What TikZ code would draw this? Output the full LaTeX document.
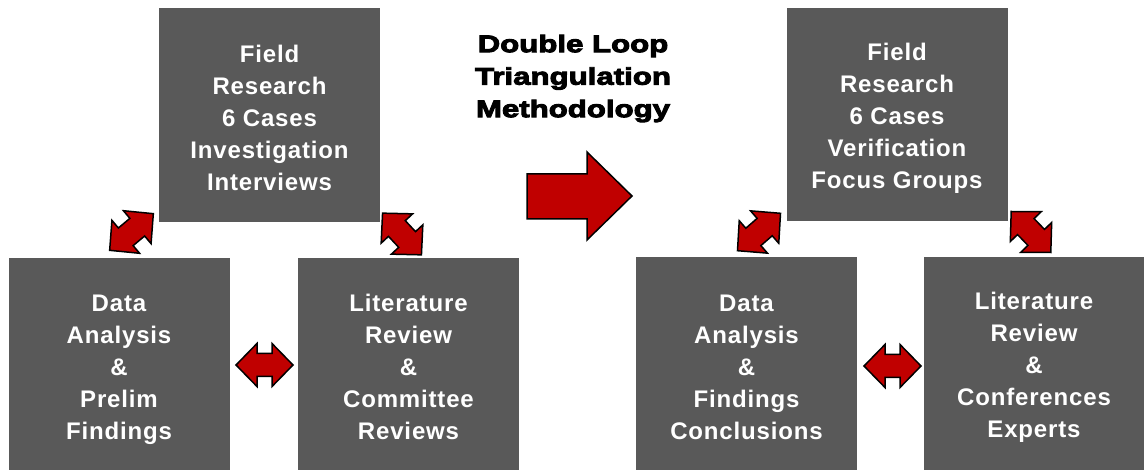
\documentclass[tikz,border=0pt]{standalone}
\usepackage{fontspec}
\setmainfont{Liberation Sans}[BoldFeatures={LetterSpace=3.5}]
\newfontfamily\titlefont{Liberation Sans}[BoldFeatures={FakeStretch=1.3,FakeBold=4}]
\definecolor{boxgray}{HTML}{595959}
\definecolor{arrowred}{HTML}{C00000}
\tikzset{
  stage/.style={fill=boxgray, draw=none, inner sep=0pt, minimum width=221pt},
  stagetext/.style={text=white, inner sep=0pt, align=center,
    font=\fontsize{24}{32}\selectfont\bfseries},
  arrowfill/.style={fill=arrowred, draw=black, line width=1.5pt, line join=miter},
  pics/dblarr/.style={code={
    \draw[arrowfill] (-28.5,0) -- (-7.5,21.5) -- (-7.5,11.5) -- (7.5,11.5) -- (7.5,21.5)
      -- (28.5,0) -- (7.5,-21.5) -- (7.5,-11.5) -- (-7.5,-11.5) -- (-7.5,-21.5) -- cycle;
  }}
}
\begin{document}
\begin{tikzpicture}[x=1pt,y=-1pt]
\useasboundingbox (0,0) rectangle (1144,470);

% first loop
\node[stage, minimum height=214pt,
  label={[stagetext, yshift=-2.5pt]center:{Field\\Research\\6 Cases\\Investigation\\Interviews}}] (fieldA) at (269.5,115) {};
\node[stage, minimum height=212pt,
  label={[stagetext, yshift=-5.5pt]center:{Data\\Analysis\\\&\\Prelim\\Findings}}] (dataA) at (119,364) {};
\node[stage, minimum height=212pt,
  label={[stagetext, yshift=-3pt]center:{Literature\\Review\\\&\\Committee\\Reviews}}] (litA) at (408.5,364) {};

% second loop
\node[stage, minimum height=213pt,
  label={[stagetext, yshift=-4pt]center:{Field\\Research\\6 Cases\\Verification\\Focus Groups}}] (fieldB) at (897,114.5) {};
\node[stage, minimum height=213pt,
  label={[stagetext, yshift=-3.5pt]center:{Data\\Analysis\\\&\\Findings\\Conclusions}}] (dataB) at (746.5,363.5) {};
\node[stage, minimum height=213pt,
  label={[stagetext, yshift=-4pt]center:{Literature\\Review\\\&\\Conferences\\Experts}}] (litB) at (1034,363.5) {};

% title
\node[font=\titlefont\bfseries\fontsize{24}{32.5}\selectfont, align=center, inner sep=0pt] (title) at (573,78.5) {Double Loop\\Triangulation\\Methodology};

% two-way links inside each loop
\pic[rotate=40] at (131.5,232) {dblarr};
\pic[rotate=-47] at (402,234) {dblarr};
\pic at (264.5,365) {dblarr};
\pic[rotate=41] at (759,232) {dblarr};
\pic[rotate=-46] at (1031,232) {dblarr};
\pic at (892.5,366) {dblarr};

% transition from first loop to second loop
\draw[arrowfill] (527,174) -- (587,174) -- (587,152) -- (632,196) -- (587,240) -- (587,219) -- (527,219) -- cycle;
\end{tikzpicture}
\end{document}
